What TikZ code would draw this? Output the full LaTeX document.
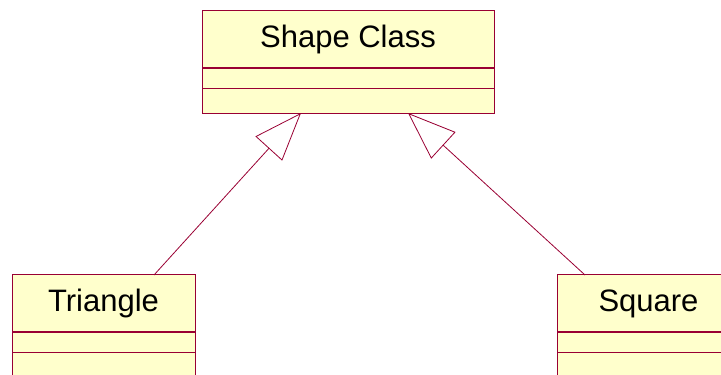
\documentclass[tikz,border=0pt]{standalone}
\usepackage{fontspec}
\setmainfont{Liberation Sans}
\usetikzlibrary{positioning,arrows.meta}
\definecolor{umlborder}{HTML}{990033}
\definecolor{umlfill}{HTML}{FFFFCC}
\begin{document}
\begin{tikzpicture}[x=1pt, y=1pt,
    classhead/.style={rectangle, draw=umlborder, fill=umlfill, line width=1pt,
        outer sep=0pt, minimum width=183pt, minimum height=57pt,
        font=\fontsize{31}{36}\selectfont},
    classpart/.style={rectangle, draw=umlborder, fill=umlfill, line width=0.8pt,
        outer sep=0pt, minimum width=183pt, inner sep=0pt},
    inherit/.style={draw=umlborder, line width=0.8pt,
        -{Triangle[open, length=48pt, width=36pt]}}]
    \clip (0,0) rectangle (721,375);

    % Base class
    \node[classhead, minimum width=292pt] (shape) at (348,335.5) {Shape Class};
    \node[classpart, minimum width=292pt, minimum height=20pt, below=0pt of shape] (shapeattr) {};
    \node[classpart, minimum width=292pt, minimum height=25pt, below=0pt of shapeattr] (shapeops) {};

    % Derived classes
    \node[classhead] (tri) at (103.5,71.5) {Triangle};
    \node[classpart, minimum height=20pt, below=0pt of tri] (triattr) {};
    \node[classpart, minimum height=25pt, below=0pt of triattr] (triops) {};

    \node[classhead] (square) at (648.5,71.5) {Square};
    \node[classpart, minimum height=20pt, below=0pt of square] (squareattr) {};
    \node[classpart, minimum height=25pt, below=0pt of squareattr] (squareops) {};

    % Generalization
    \draw[inherit] ([xshift=50.5pt]tri.north) -- ([xshift=-47pt]shapeops.south);
    \draw[inherit] ([xshift=-63.5pt]square.north) -- ([xshift=60pt]shapeops.south);
\end{tikzpicture}
\end{document}
